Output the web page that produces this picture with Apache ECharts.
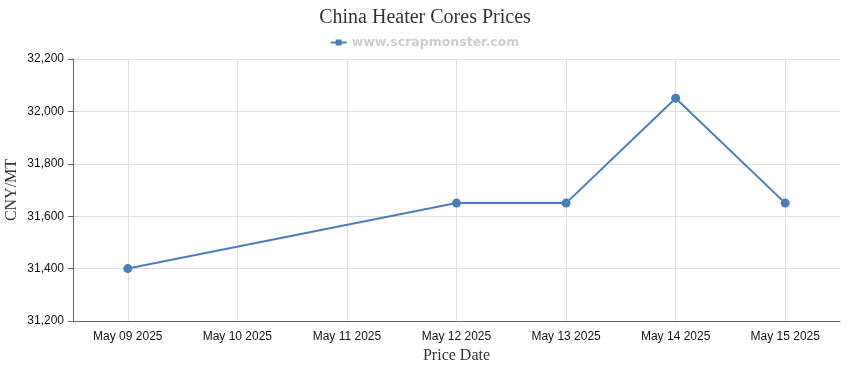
<!DOCTYPE html>
<html><head><meta charset="utf-8">
<script src="https://cdn.jsdelivr.net/npm/echarts@6/dist/echarts.min.js"></script>
<style>html,body{margin:0;padding:0;background:#fff}#c{width:850px;height:370px}</style>
</head><body><div id="c"></div>
<script>
const categories = ['May 09 2025','May 10 2025','May 11 2025','May 12 2025','May 13 2025','May 14 2025','May 15 2025'];
const prices = [31400, null, null, 31650, 31650, 32050, 31650];
const seriesName = 'www.scrapmonster.com';
const chart = echarts.init(document.getElementById('c'));
chart.setOption({
  backgroundColor: '#fff',
  animation: false,
  title: {text: 'China Heater Cores Prices', left: 'center', top: 3,
    textStyle: {fontFamily: 'Liberation Serif', fontWeight: 'normal', fontSize: 20, color: '#333'}},
  legend: {top: 31, left: 'center', itemWidth: 16, itemHeight: 8, itemGap: 5,
    data: [{name: seriesName, icon: 'path://M0,3H16V5H0Z M5,1H11V7H5Z'}],
    textStyle: {fontFamily: 'DejaVu Sans', fontWeight: 'bold', fontSize: 12.5, color: '#cccccc'}},
  grid: {left: 73, right: 10, top: 59, bottom: 49, containLabel: false, outerBoundsMode: 'none'},
  xAxis: {type: 'category', data: categories, boundaryGap: true,
    name: 'Price Date', nameLocation: 'middle', nameGap: 27, nameMoveOverlap: false,
    nameTextStyle: {fontFamily: 'Liberation Serif', fontSize: 16, color: '#333'},
    axisLine: {lineStyle: {color: '#666'}},
    axisTick: {alignWithLabel: true, length: 5, lineStyle: {color: '#666'}},
    axisLabel: {fontFamily: 'Liberation Sans', fontSize: 12, color: '#111', margin: 10, interval: 0},
    splitLine: {show: true, alignWithLabel: true, lineStyle: {color: '#dddddd'}}},
  yAxis: {type: 'value', min: 31200, max: 32200, interval: 200,
    name: 'CNY/MT', nameLocation: 'middle', nameGap: 53, nameRotate: 90, nameMoveOverlap: false,
    nameTextStyle: {fontFamily: 'Liberation Serif', fontSize: 16, color: '#333'},
    axisLine: {show: true, lineStyle: {color: '#666'}},
    axisTick: {show: true, length: 5, lineStyle: {color: '#666'}},
    axisLabel: {fontFamily: 'Liberation Sans', fontSize: 12, color: '#111', margin: 9,
      formatter: v => v.toLocaleString('en-US')},
    splitLine: {lineStyle: {color: '#dddddd'}}},
  series: [{name: seriesName, type: 'line', data: prices, connectNulls: true,
    symbol: 'circle', symbolSize: 9, color: '#4a7ebb',
    lineStyle: {width: 2, color: '#4a7ebb'}, itemStyle: {color: '#4a7ebb'}}]
});
</script></body></html>
